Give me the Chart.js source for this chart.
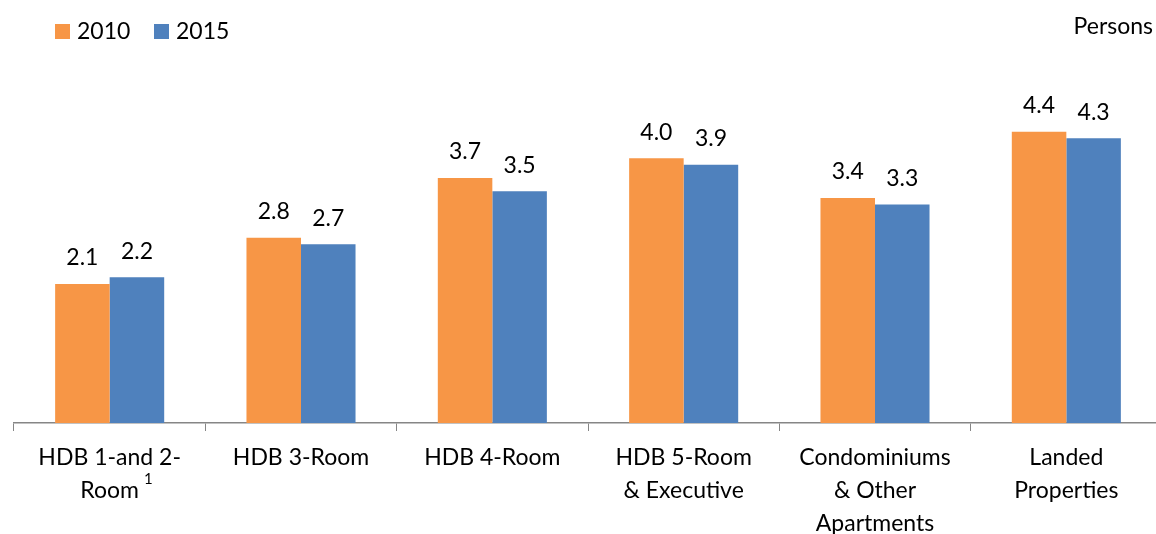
<!DOCTYPE html>
<html>
<head>
<meta charset="utf-8">
<script src="https://cdn.jsdelivr.net/npm/chart.js@4/dist/chart.umd.min.js"></script>
<style>
  html, body { margin: 0; padding: 0; background: #fff; overflow: hidden; }
  #wrap { width: 1156px; height: 534px; overflow: hidden; }
</style>
</head>
<body>
<div id="wrap"><canvas id="c" width="1162" height="534"></canvas></div>
<script>
// Average household size by type of dwelling
const categories = [
  ["HDB 1-and 2-", "Room"],
  "HDB 3-Room",
  "HDB 4-Room",
  ["HDB 5-Room", "& Executive"],
  ["Condominiums", "& Other", "Apartments"],
  ["Landed", "Properties"]
];
// Footnote marks written as superscripts after a category's last line
const footnoteMarks = ["1", "", "", "", "", ""];
const seriesNames = ["2010", "2015"];
const values2010 = [2.1, 2.8, 3.7, 4.0, 3.4, 4.4];
const values2015 = [2.2, 2.7, 3.5, 3.9, 3.3, 4.3];
const seriesColors = ["#F79646", "#4F81BD"];
const unitLabel = "Persons";

const FONT = "Lato, 'Open Sans', sans-serif";
const FONT_SIZE = 23;
const LINE_HEIGHT = 1.43;
const TICK_LEN = 8;
const TICK_PAD = 10;

// Value labels above each bar
const valueLabels = {
  id: 'valueLabels',
  afterDatasetsDraw(chart) {
    const ctx = chart.ctx;
    ctx.save();
    ctx.font = FONT_SIZE + 'px ' + FONT;
    ctx.fillStyle = '#000';
    ctx.textAlign = 'center';
    ctx.textBaseline = 'middle';
    chart.data.datasets.forEach((ds, i) => {
      chart.getDatasetMeta(i).data.forEach((bar, j) => {
        ctx.fillText(ds.data[j].toFixed(1), bar.x, bar.y - 26);
      });
    });
    ctx.restore();
  }
};

// Legend, unit note and footnote superscripts
const headerPlugin = {
  id: 'header',
  afterDraw(chart) {
    const ctx = chart.ctx;
    ctx.save();
    ctx.font = FONT_SIZE + 'px ' + FONT;
    ctx.fillStyle = '#000';
    ctx.textBaseline = 'middle';
    let x = 55;
    chart.data.datasets.forEach((ds) => {
      ctx.fillStyle = ds.backgroundColor;
      ctx.fillRect(x, 24, 15, 15);
      ctx.fillStyle = '#000';
      ctx.textAlign = 'left';
      ctx.fillText(ds.label, x + 22, 32);
      x += 99;
    });
    ctx.textAlign = 'right';
    ctx.fillText(unitLabel, 1153, 27);

    // superscript footnote marks on category labels
    const xs = chart.scales.x;
    const lineH = FONT_SIZE * LINE_HEIGHT;
    const top = xs.top + TICK_LEN + TICK_PAD;
    categories.forEach((cat, i) => {
      const mark = footnoteMarks[i];
      if (!mark) return;
      const lines = Array.isArray(cat) ? cat : [cat];
      const last = lines[lines.length - 1];
      ctx.font = FONT_SIZE + 'px ' + FONT;
      const w = ctx.measureText(last).width;
      const cx = xs.getPixelForTick(i);
      const cy = top + lineH * (lines.length - 0.5);
      ctx.font = '15px ' + FONT;
      ctx.textAlign = 'left';
      ctx.fillText(mark, cx + w / 2 + 5, cy - 11);
    });
    ctx.restore();
  }
};

new Chart(document.getElementById('c'), {
  type: 'bar',
  data: {
    labels: categories,
    datasets: [
      { label: seriesNames[0], data: values2010, backgroundColor: seriesColors[0] },
      { label: seriesNames[1], data: values2015, backgroundColor: seriesColors[1] }
    ]
  },
  options: {
    responsive: false,
    animation: false,
    layout: { padding: { left: 14, right: 0, top: 92, bottom: 0 } },
    datasets: { bar: { barPercentage: 1, categoryPercentage: 0.57 } },
    plugins: {
      legend: { display: false },
      tooltip: { enabled: false }
    },
    scales: {
      y: { display: false, min: 0, max: 5 },
      x: {
        afterFit(scale) { scale.height = 111; },
        grid: {
          display: true,
          drawOnChartArea: false,
          drawTicks: true,
          tickLength: TICK_LEN,
          color: '#868686',
          offset: true
        },
        border: { display: true, color: '#868686', width: 1.5 },
        ticks: {
          color: '#000',
          padding: TICK_PAD,
          maxRotation: 0,
          autoSkip: false,
          font: { family: FONT, size: FONT_SIZE, lineHeight: LINE_HEIGHT }
        }
      }
    }
  },
  plugins: [valueLabels, headerPlugin]
});
</script>
</body>
</html>
